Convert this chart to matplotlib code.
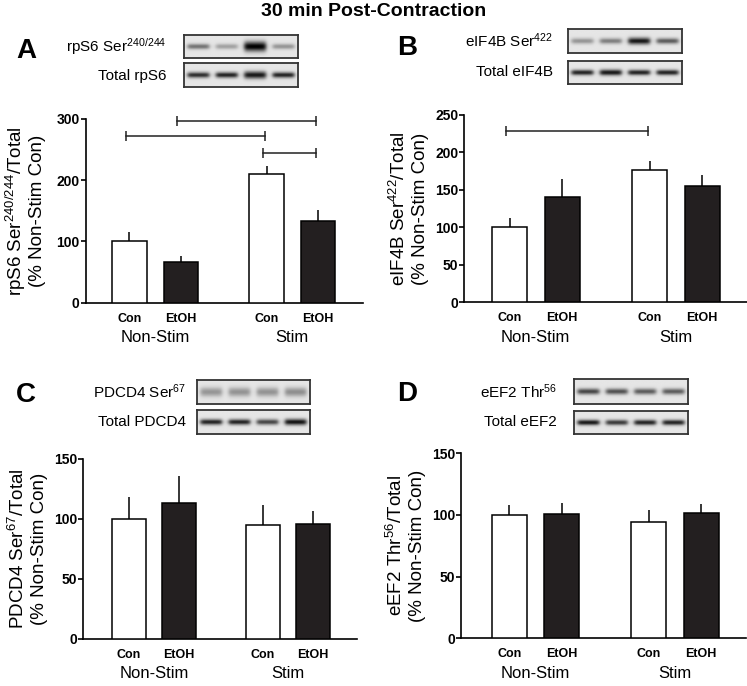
import numpy as np
import matplotlib
matplotlib.use("Agg")
import matplotlib.pyplot as plt

plt.rcParams['font.family'] = ['Liberation Sans', 'DejaVu Sans']
plt.rcParams['mathtext.fontset'] = 'custom'
plt.rcParams['mathtext.rm'] = 'Liberation Sans'
plt.rcParams['mathtext.it'] = 'Liberation Sans'
plt.rcParams['mathtext.bf'] = 'Liberation Sans:bold'

# ---------------- data ----------------
categories = ['Con', 'EtOH', 'Con', 'EtOH']
groups = ['Non-Stim', 'Stim']
positions = [0, 1.5, 4, 5.5]
fills = ['white', '#231f20', 'white', '#231f20']

rps6_mean = [100, 67, 210, 134]
rps6_sem = [15, 9, 14, 17]
eif4b_mean = [100, 141, 177, 155]
eif4b_sem = [12, 24, 11, 15]
pdcd4_mean = [100, 113, 95, 96]
pdcd4_sem = [18, 23, 17, 11]
eef2_mean = [100, 100.5, 94, 101.5]
eef2_sem = [8, 9, 10, 7]

rps6_ticks = [0, 100, 200, 300]
eif4b_ticks = [0, 50, 100, 150, 200, 250]
pdcd4_ticks = [0, 50, 100, 150]
eef2_ticks = [0, 50, 100, 150]

# significance brackets: (bar index from, bar index to, height)
rps6_brackets = [(1, 3, 297), (0, 2, 272), (2, 3, 245)]
eif4b_brackets = [(0, 2, 229)]

# western blot band intensities (4 lanes) and relative band thickness
rps6_phos_int = [0.5, 0.3, 1.0, 0.35]
rps6_phos_thk = [1.0, 1.0, 1.8, 1.0]
rps6_tot_int = [0.8, 0.85, 0.9, 0.85]
rps6_tot_thk = [1.0, 1.0, 1.3, 1.0]
eif4b_phos_int = [0.35, 0.45, 0.9, 0.6]
eif4b_phos_thk = [1.0, 1.0, 1.2, 1.0]
eif4b_tot_int = [0.85, 0.9, 0.85, 0.85]
eif4b_tot_thk = [1.0, 1.1, 1.0, 1.0]
pdcd4_phos_int = [0.35, 0.36, 0.36, 0.38]
pdcd4_phos_thk = [1.6, 1.6, 1.6, 1.6]
pdcd4_tot_int = [0.85, 0.85, 0.7, 0.92]
pdcd4_tot_thk = [1.0, 1.0, 1.0, 1.1]
eef2_phos_int = [0.7, 0.65, 0.6, 0.6]
eef2_phos_thk = [1.0, 1.0, 1.0, 1.0]
eef2_tot_int = [0.9, 0.75, 0.85, 0.85]
eef2_tot_thk = [1.0, 1.0, 1.0, 1.0]

W, H = 747, 686
fig = plt.figure(figsize=(W / 100, H / 100), dpi=100)


def px_axes(left, top, right, bottom):
    return fig.add_axes([left / W, 1 - bottom / H, (right - left) / W, (bottom - top) / H])


def px2pt(p):
    return p * 0.72


def bar_panel(left, top, right, bottom, xlim, means, sems, ticks, brackets,
              ylab1, ylab2, lab_off1, lab_off2):
    ax = px_axes(left, top, right, bottom)
    ax.bar(positions, means, width=1.0, color=fills, edgecolor='black', linewidth=1.1, zorder=3)
    ax.errorbar(positions, means, yerr=[np.zeros(len(sems)), sems], fmt='none',
                ecolor='black', elinewidth=1.1, capsize=0, zorder=2)
    ax.set_xlim(*xlim)
    ax.set_ylim(0, ticks[-1])
    ax.set_yticks(ticks)
    ax.set_yticklabels([str(t) for t in ticks], fontsize=10, fontweight='bold')
    ax.tick_params(axis='y', length=3.6, width=1.2, pad=0.6, direction='out')
    ax.set_xticks([])
    for s in ['top', 'right']:
        ax.spines[s].set_visible(False)
    for s in ['left', 'bottom']:
        ax.spines[s].set_linewidth(1.2)
    ax.patch.set_alpha(0)
    for i0, i1, y in brackets:
        ax.plot([positions[i0] - 0.1, positions[i1] - 0.05], [y, y], color='#222222', lw=1.1,
                marker='|', markersize=6.5, mew=1.1, clip_on=False, zorder=4)
    for x, c in zip(positions, categories):
        ax.annotate(c, xy=(x, 0), xycoords=('data', 'axes fraction'),
                    xytext=(0, -px2pt(19)), textcoords='offset points',
                    ha='center', va='baseline', fontsize=9, fontweight='bold')
    for k, g in enumerate(groups):
        gx = (positions[2 * k] + positions[2 * k + 1]) / 2
        ax.annotate(g, xy=(gx, 0), xycoords=('data', 'axes fraction'),
                    xytext=(0, -px2pt(39.5)), textcoords='offset points',
                    ha='center', va='baseline', fontsize=12)
    cy = 1 - ((top + bottom) / 2) / H
    fig.text((left + lab_off1) / W, cy, ylab1, rotation=90, rotation_mode='anchor',
             ha='center', va='baseline', fontsize=13.5)
    fig.text((left + lab_off2) / W, cy, ylab2, rotation=90, rotation_mode='anchor',
             ha='center', va='baseline', fontsize=13.5)
    return ax


def blot(left, top, right, bottom, intens, thick):
    ax = px_axes(left, top, right, bottom)
    nx, ny = 200, 40
    xx = np.linspace(0, 4, nx)
    yy = np.linspace(-1, 1, ny)
    X, Y = np.meshgrid(xx, yy)
    img = np.zeros_like(X)
    for i, (a, t) in enumerate(zip(intens, thick)):
        c = i + 0.5
        wx = 1 / (1 + np.exp(-(X - (c - 0.38)) * 25)) * 1 / (1 + np.exp((X - (c + 0.38)) * 25))
        wy = np.exp(-(Y / (0.24 * t)) ** 2)
        img += a * wx * wy
    img = np.clip(0.9 - 0.9 * img, 0, 1)
    ax.imshow(img, cmap='gray', vmin=0, vmax=1, aspect='auto', interpolation='bilinear',
              extent=[0, 4, -1, 1])
    ax.set_xticks([])
    ax.set_yticks([])
    for s in ax.spines.values():
        s.set_color('#333333')
        s.set_linewidth(1.3)
    return ax


# Title
fig.text(374 / W, 1 - 11 / H, '30 min Post-Contraction', ha='center', va='center',
         fontsize=14, fontweight='bold')

# Panel letters
for lab, (x, y) in zip(['A', 'B', 'C', 'D'], [(26, 51), (407, 48), (26, 395), (407, 394)]):
    fig.text(x / W, 1 - y / H, lab, ha='center', va='center', fontsize=20, fontweight='bold')

# Panel A
bar_panel(85.5, 119, 362.5, 302.7, (-1.28, 6.8), rps6_mean, rps6_sem, rps6_ticks, rps6_brackets,
          r'rpS6 $\mathregular{Ser^{240/244}}$/Total', '(% Non-Stim Con)', -63, -43)
blot(184, 35, 298, 58, rps6_phos_int, rps6_phos_thk)
blot(184, 63, 298, 87, rps6_tot_int, rps6_tot_thk)
fig.text(167 / W, 1 - 47 / H, r'rpS6 $\mathregular{Ser^{240/244}}$', ha='right', va='center', fontsize=11)
fig.text(167 / W, 1 - 76 / H, 'Total rpS6', ha='right', va='center', fontsize=11)

# Panel B
bar_panel(464, 115, 747, 302.3, (-1.3, 6.78), eif4b_mean, eif4b_sem, eif4b_ticks, eif4b_brackets,
          r'eIF4B $\mathregular{Ser^{422}}$/Total', '(% Non-Stim Con)', -59, -39)
blot(568, 29, 682, 53, eif4b_phos_int, eif4b_phos_thk)
blot(568, 61, 682, 84, eif4b_tot_int, eif4b_tot_thk)
fig.text(553 / W, 1 - 41 / H, r'eIF4B $\mathregular{Ser^{422}}$', ha='right', va='center', fontsize=11)
fig.text(553 / W, 1 - 72 / H, 'Total eIF4B', ha='right', va='center', fontsize=11)

# Panel C
bar_panel(83, 459, 356.7, 638.7, (-1.37, 6.8), pdcd4_mean, pdcd4_sem, pdcd4_ticks, [],
          r'PDCD4 $\mathregular{Ser^{67}}$/Total', '(% Non-Stim Con)', -59, -39)
blot(197, 380, 310, 404, pdcd4_phos_int, pdcd4_phos_thk)
blot(197, 410, 310, 434, pdcd4_tot_int, pdcd4_tot_thk)
fig.text(186 / W, 1 - 392 / H, r'PDCD4 $\mathregular{Ser^{67}}$', ha='right', va='center', fontsize=11)
fig.text(186 / W, 1 - 422 / H, 'Total PDCD4', ha='right', va='center', fontsize=11)

# Panel D
bar_panel(461, 453.3, 745.8, 638.3, (-1.38, 6.78), eef2_mean, eef2_sem, eef2_ticks, [],
          r'eEF2 $\mathregular{Thr^{56}}$/Total', '(% Non-Stim Con)', -59, -39)
blot(574, 379, 688, 404, eef2_phos_int, eef2_phos_thk)
blot(574, 411, 688, 434, eef2_tot_int, eef2_tot_thk)
fig.text(557 / W, 1 - 392 / H, r'eEF2 $\mathregular{Thr^{56}}$', ha='right', va='center', fontsize=11)
fig.text(557 / W, 1 - 422 / H, 'Total eEF2', ha='right', va='center', fontsize=11)

fig.savefig('out.png', dpi=100)
